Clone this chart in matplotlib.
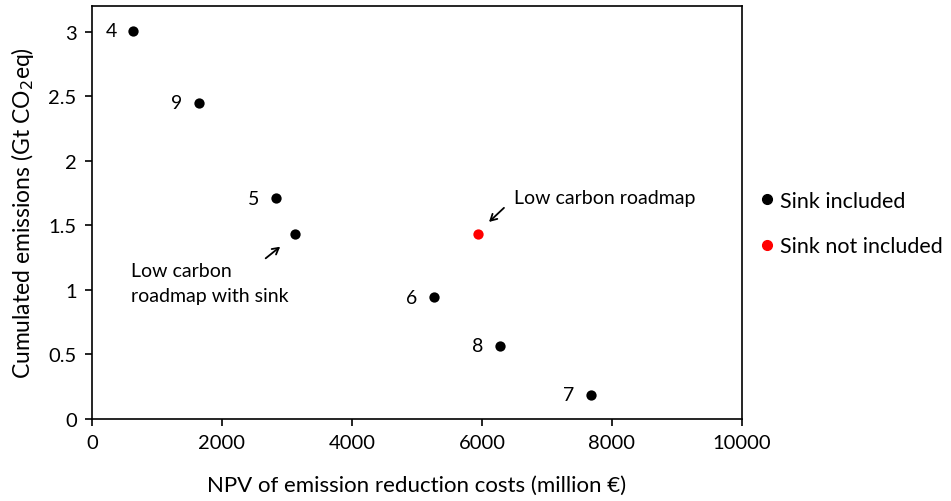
import matplotlib
matplotlib.use("Agg")
import matplotlib.pyplot as plt
from matplotlib.lines import Line2D

plt.rcParams['font.family'] = ['Lato', 'DejaVu Sans']

# Scenarios with sink included
sink_labels = ["4", "9", "5", "", "6", "8", "7"]
sink_cost = [635, 1646, 2831, 3118, 5266, 6277, 7677]
sink_emis = [3.01, 2.45, 1.71, 1.43, 0.945, 0.567, 0.186]

# Scenario without sink
nosink_cost = [5933]
nosink_emis = [1.43]

x_ticks = [0, 2000, 4000, 6000, 8000, 10000]
y_ticks = [0, 0.5, 1, 1.5, 2, 2.5, 3]
y_tick_labels = ["0", "0.5", "1", "1.5", "2", "2.5", "3"]

fig = plt.figure(figsize=(9.51, 5.02), dpi=100)
ax = fig.add_axes([92 / 951, 1 - 420 / 502, 650 / 951, 413 / 502])

ax.scatter(sink_cost, sink_emis, s=55, color="black", zorder=3, linewidths=0)
ax.scatter(nosink_cost, nosink_emis, s=55, color="#ff0000", zorder=3, linewidths=0)

for lab, xv, yv in zip(sink_labels, sink_cost, sink_emis):
    if lab:
        ax.annotate(lab, (xv, yv), xytext=(-12, 0), textcoords="offset points",
                    ha="right", va="center", fontsize=14)

arrow_props = dict(arrowstyle="->,head_length=0.45,head_width=0.25",
                   color="black", lw=1.3, shrinkA=0, shrinkB=0)

# Callouts
ax.annotate("", xy=(2895, 1.335), xytext=(2672, 1.245), arrowprops=arrow_props)
ax.text(600, 1.15, "Low carbon", ha="left", va="center", fontsize=14)
ax.text(600, 0.955, "roadmap with sink", ha="left", va="center", fontsize=14)
ax.annotate("", xy=(6108, 1.527), xytext=(6338, 1.636), arrowprops=arrow_props)
ax.text(6492, 1.72, "Low carbon roadmap", ha="left", va="center", fontsize=14)

ax.set_xlim(0, 10000)
ax.set_ylim(0, 3.2)
ax.set_xticks(x_ticks)
ax.set_xticklabels([str(v) for v in x_ticks])
ax.set_yticks(y_ticks)
ax.set_yticklabels(y_tick_labels)
ax.tick_params(direction="out", length=5, width=1.2, labelsize=14.5, pad=6)
for sp in ax.spines.values():
    sp.set_linewidth(1.2)

ax.set_xlabel("NPV of emission reduction costs (million €)", fontsize=16, labelpad=17)
ax.set_ylabel("Cumulated emissions (Gt CO$_2$eq)", fontsize=16.5, labelpad=9)

handles = [
    Line2D([], [], marker="o", linestyle="none", color="black", markersize=7),
    Line2D([], [], marker="o", linestyle="none", color="#ff0000", markersize=7),
]
fig.legend(handles, ["Sink included", "Sink not included"], loc="upper left",
           bbox_to_anchor=(756 / 951, 1 - 192 / 502), frameon=False,
           fontsize=15.5, handletextpad=0.1, labelspacing=1.18, handlelength=1.0,
           borderpad=0, borderaxespad=0)

fig.savefig("out.png", dpi=100)
